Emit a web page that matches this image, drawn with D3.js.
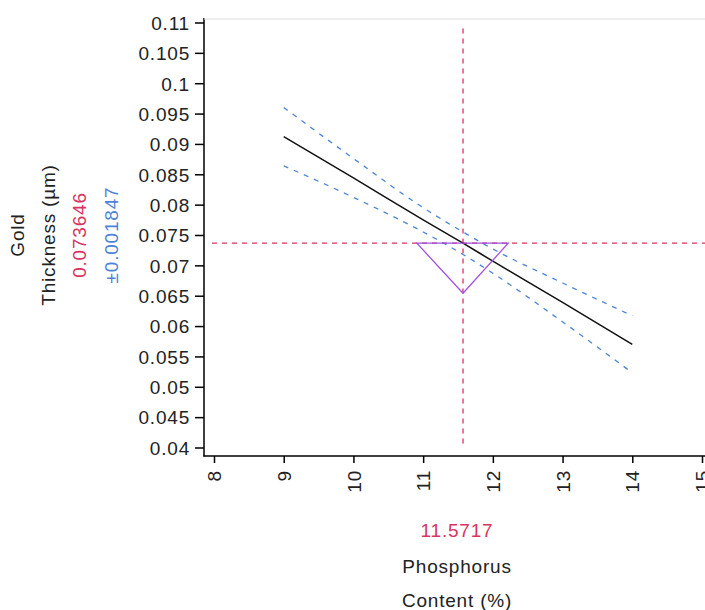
<!DOCTYPE html>
<html>
<head>
<meta charset="utf-8">
<script src="https://cdn.jsdelivr.net/npm/d3@7"></script>
<style>
  html, body { margin: 0; padding: 0; background: #fff; }
  svg text { font-family: "Liberation Sans", Arial, sans-serif; font-size: 19px; letter-spacing: 0.8px; }
</style>
</head>
<body>
<svg id="chart" width="705" height="610"></svg>
<script>
// ---- data ----
const xTickValues = [8, 9, 10, 11, 12, 13, 14, 15];
const xTickLabels = ["8", "9", "10", "11", "12", "13", "14", "15"];
const yTickValues = [0.04, 0.045, 0.05, 0.055, 0.06, 0.065, 0.07, 0.075, 0.08, 0.085, 0.09, 0.095, 0.1, 0.105, 0.11];
const yTickLabels = ["0.04", "0.045", "0.05", "0.055", "0.06", "0.065", "0.07", "0.075", "0.08", "0.085", "0.09", "0.095", "0.1", "0.105", "0.11"];

const phosphorus = [9, 10, 11, 11.5717, 12, 13, 14];
const fitThickness = [0.0912, 0.0844, 0.0775, 0.073646, 0.0707, 0.0639, 0.0570];
const upperThickness = [0.0960, 0.0876, 0.0795, 0.075493, 0.0727, 0.0671, 0.0617];
const lowerThickness = [0.0864, 0.0812, 0.0755, 0.071799, 0.0687, 0.0607, 0.0523];

const currentX = 11.5717;
const currentY = 0.073646;
const currentCI = 0.001847;

const triangleX = [10.91, 12.22, 11.5717];
const triangleY = [0.073646, 0.073646, 0.0654];

const yLabelLines = ["Gold", "Thickness (µm)"];
const xLabelLines = ["Phosphorus", "Content (%)"];

// ---- chart ----
const svg = d3.select("#chart");
const RED = "#d8345f", BLUE = "#4d84d6", PURPLE = "#a052e2";

const x = d3.scaleLinear().domain([8, 15]).range([214, 702]);
const y = d3.scaleLinear().domain([0.04, 0.11]).range([447.5, 22.5]);

// frame
svg.append("line").attr("x1", 204).attr("x2", 204).attr("y1", 18).attr("y2", 456.5)
  .attr("stroke", "#000").attr("stroke-width", 1.5);
svg.append("line").attr("x1", 203.5).attr("x2", 705).attr("y1", 456).attr("y2", 456)
  .attr("stroke", "#000").attr("stroke-width", 1.5);
svg.append("line").attr("x1", 204).attr("x2", 705).attr("y1", 19).attr("y2", 19)
  .attr("stroke", "#ddd").attr("stroke-width", 1);

// y axis
const yAxis = d3.axisLeft(y).tickValues(yTickValues)
  .tickFormat((d, i) => yTickLabels[i]).tickSize(9).tickPadding(5);
const gy = svg.append("g").attr("transform", "translate(204,0)").call(yAxis);
gy.select(".domain").remove();
gy.selectAll(".tick line").attr("stroke", "#000").attr("stroke-width", 1.5);
gy.selectAll(".tick text").attr("fill", "#222").style("font-size", "19px")
  .style("font-family", "Liberation Sans, Arial, sans-serif").attr("dy", "0.36em");

// x axis
const xAxis = d3.axisBottom(x).tickValues(xTickValues)
  .tickFormat((d, i) => xTickLabels[i]).tickSize(7).tickPadding(0);
const gx = svg.append("g").attr("transform", "translate(0,456)").call(xAxis);
gx.select(".domain").remove();
gx.selectAll(".tick line").attr("stroke", "#000").attr("stroke-width", 1.5);
gx.selectAll(".tick text").attr("fill", "#222").style("font-size", "19px")
  .style("font-family", "Liberation Sans, Arial, sans-serif")
  .attr("text-anchor", "end").attr("transform", "translate(0,14) rotate(-90)")
  .attr("x", 0).attr("y", 0).attr("dy", "0.35em");

// crosshair
svg.append("line").attr("x1", x(currentX)).attr("x2", x(currentX))
  .attr("y1", y(0.109)).attr("y2", y(0.04))
  .attr("stroke", RED).attr("stroke-width", 1.3).attr("stroke-dasharray", "5,5");
svg.append("line").attr("x1", x(8) - 2).attr("x2", 705)
  .attr("y1", y(currentY)).attr("y2", y(currentY))
  .attr("stroke", RED).attr("stroke-width", 1.3).attr("stroke-dasharray", "5,5");

// confidence curves
const lineGen = arr => d3.line().x((d, i) => x(phosphorus[i])).y((d, i) => y(arr[i])).curve(d3.curveMonotoneX)(arr);
svg.append("path").attr("d", lineGen(upperThickness)).attr("fill", "none")
  .attr("stroke", BLUE).attr("stroke-width", 1.3).attr("stroke-dasharray", "5,6");
svg.append("path").attr("d", lineGen(lowerThickness)).attr("fill", "none")
  .attr("stroke", BLUE).attr("stroke-width", 1.3).attr("stroke-dasharray", "5,6");

// fit line
svg.append("path").attr("d", lineGen(fitThickness)).attr("fill", "none")
  .attr("stroke", "#111").attr("stroke-width", 1.5);

// triangle
const triPts = triangleX.map((v, i) => [x(v), y(triangleY[i])]);
svg.append("path").attr("d", d3.line()(triPts) + "Z").attr("fill", "none")
  .attr("stroke", PURPLE).attr("stroke-width", 1.3);

// y label block
const ycen = 235;
const leftLabels = [
  { t: yLabelLines[0], x: 28, c: "#222" },
  { t: yLabelLines[1], x: 59, c: "#222" },
  { t: d3.format(".6f")(currentY), x: 90, c: RED },
  { t: "±" + d3.format(".6f")(currentCI), x: 122, c: BLUE }
];
leftLabels.forEach(l => {
  svg.append("text").attr("transform", `translate(${l.x - 4},${ycen}) rotate(-90)`)
    .attr("text-anchor", "middle").attr("fill", l.c).text(l.t);
});

// x label block
svg.append("text").attr("x", 457).attr("y", 537).attr("text-anchor", "middle")
  .attr("fill", RED).text(d3.format(".4f")(currentX));
svg.append("text").attr("x", 457).attr("y", 573).attr("text-anchor", "middle")
  .attr("fill", "#222").text(xLabelLines[0]);
svg.append("text").attr("x", 457).attr("y", 607).attr("text-anchor", "middle")
  .attr("fill", "#222").text(xLabelLines[1]);
</script>
</body>
</html>
